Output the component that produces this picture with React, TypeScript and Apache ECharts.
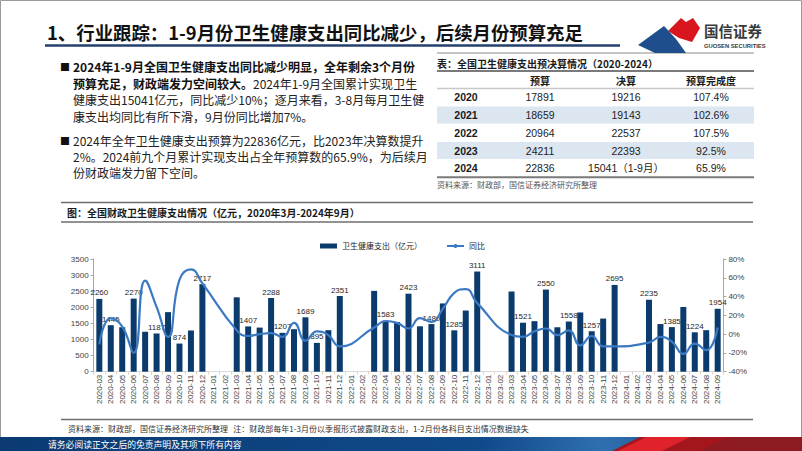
import React, { useEffect, useRef } from "react";
import * as echarts from "echarts";

const months = [
  "2020-03","2020-04","2020-05","2020-06","2020-07","2020-08","2020-09","2020-10","2020-11","2020-12",
  "2021-01","2021-02","2021-03","2021-04","2021-05","2021-06","2021-07","2021-08","2021-09","2021-10","2021-11","2021-12",
  "2022-01","2022-02","2022-03","2022-04","2022-05","2022-06","2022-07","2022-08","2022-09","2022-10","2022-11","2022-12",
  "2023-01","2023-02","2023-03","2023-04","2023-05","2023-06","2023-07","2023-08","2023-09","2023-10","2023-11","2023-12",
  "2024-01","2024-02","2024-03","2024-04","2024-05","2024-06","2024-07","2024-08","2024-09",
];

// 卫生健康支出（亿元）
const spending = [
  2260, 1445, 1380, 2270, 1240, 1187, 1850, 874, 1280, 2717,
  null, null, 2310, 1407, 1370, 2288, 1207, 1320, 1689, 895, 1290, 2351,
  null, null, 2510, 1583, 1540, 2423, 1410, 1480, 2120, 1285, 1900, 3111,
  null, null, 2490, 1521, 1570, 2550, 1380, 1558, 1840, 1257, 1650, 2695,
  null, null, 2235, 1480, 1385, 2010, 1224, 1290, 1954,
];

// 同比（%）
const yoy = [
  -11, 17, 8, -20, 57, 29, -3, 58, 69, 54,
  null, null, 4, -2, 0, 1, -3, 12, -7, 3, -1, -13,
  null, null, 7, 14, 12, 6, 17, 13, 27, 44, 48, 33,
  null, null, -1, -3, 3, 6, -1, 4, -12, -2, -13, -13,
  null, null, -9, -3, -8, -21, -10, -17, 7,
];

const labeledMonths = [
  "2020-03","2020-04","2020-06","2020-08","2020-10","2020-12",
  "2021-04","2021-06","2021-07","2021-09","2021-10","2021-12",
  "2022-04","2022-06","2022-08","2022-10","2022-12",
  "2023-04","2023-06","2023-08","2023-10","2023-12",
  "2024-03","2024-05","2024-07","2024-09",
];

const leftTicks = { min: 0, max: 3500, interval: 500 };
const rightTicks = { min: -40, max: 80, interval: 20 };

// 表：全国卫生健康支出预决算情况
const tableHeaders = ["预算", "决算", "预算完成度"];
const tableYears = ["2020", "2021", "2022", "2023", "2024"];
const tableBudget = ["17891", "18659", "20964", "24211", "22836"];
const tableFinal = ["19216", "19143", "22537", "22393", "15041（1-9月）"];
const tableCompletion = ["107.4%", "102.6%", "107.5%", "92.5%", "65.9%"];

const CJK = '"Noto Sans CJK SC", "Noto Sans", sans-serif';
const ARIAL = '"Liberation Sans", Arial, "Noto Sans CJK SC", sans-serif';

const BAR_COLOR = "#0b3b6d";
const LINE_COLOR = "#3b7ac3";

function txt(x: number, y: number, text: string, o: any = {}) {
  const align = o.align || "left";
  return {
    type: "text",
    x,
    y,
    z: 10,
    style: {
      text,
      fill: o.fill || "#1a1a1a",
      fontSize: o.fontSize || 12,
      fontWeight: o.fontWeight || "normal",
      fontFamily: o.fontFamily || CJK,
      align,
      textAlign: align,
      verticalAlign: "middle",
      textVerticalAlign: "middle",
      rich: o.rich,
    },
  };
}

function hline(x1: number, x2: number, y: number, stroke: string, lineWidth: number) {
  return { type: "line", z: 5, shape: { x1, y1: y, x2, y2: y }, style: { stroke, lineWidth } };
}

export default function App() {
  const ref = useRef<HTMLDivElement>(null);

  useEffect(() => {
    const chart = echarts.init(ref.current!, null, { renderer: "svg" });

    const g: any[] = [];
    // slide frame
    g.push({ type: "rect", z: 1, shape: { x: 0.5, y: 0.5, width: 801, height: 450 }, style: { fill: "none", stroke: "#9a9a9a", lineWidth: 1 } });

    // title
    g.push(txt(47, 32, "1、行业跟踪：1-9月份卫生健康支出同比减少，后续月份预算充足", { fontSize: 18.4, fontWeight: "bold", fill: "#111" }));
    g.push(hline(45, 620, 45.5, "#23406e", 2.5));

    // logo
    g.push({ type: "polygon", z: 6, shape: { points: [[668, 31], [681, 18], [686, 22], [693, 18], [700, 28], [692, 42], [679, 38]] }, style: { fill: "#d9161e" } });
    g.push({ type: "polygon", z: 6, shape: { points: [[638, 45], [664, 26], [676, 39], [686, 53], [655, 53]] }, style: { fill: "#1f4e8c" } });
    g.push(txt(704, 30, "国信证券", { fontSize: 14.5, fontWeight: "bold", fill: "#3a3a3a" }));
    g.push(txt(704, 46, "GUOSEN SECURITIES", { fontSize: 5.8, fontWeight: "bold", fill: "#3a3a3a", fontFamily: ARIAL }));

    // left paragraphs
    g.push(txt(60, 66.7, "■", { fontSize: 10, fill: "#111" }));
    g.push(txt(73, 66.7, "2024年1-9月全国卫生健康支出同比减少明显，全年剩余3个月份", { fontSize: 12, fontWeight: "bold", fill: "#111" }));
    g.push(
      txt(73, 83.3, "{b|预算充足，财政端发力空间较大。}{r|2024年1-9月全国累计实现卫生}", {
        fontSize: 12,
        rich: {
          b: { fontSize: 12, fontWeight: "bold", fill: "#111", fontFamily: CJK },
          r: { fontSize: 12, fontWeight: "normal", fill: "#222", fontFamily: CJK },
        },
      })
    );
    g.push(txt(73, 99.7, "健康支出15041亿元，同比减少10%；逐月来看，3-8月每月卫生健", { fontSize: 12, fill: "#222" }));
    g.push(txt(73, 116, "康支出均同比有所下滑，9月份同比增加7%。", { fontSize: 12, fill: "#222" }));
    g.push(txt(60, 140, "■", { fontSize: 10, fill: "#111" }));
    g.push(txt(73, 140, "2024年全年卫生健康支出预算为22836亿元，比2023年决算数提升", { fontSize: 12, fill: "#222" }));
    g.push(txt(73, 156.5, "2%。2024前九个月累计实现支出占全年预算数的65.9%，为后续月", { fontSize: 12, fill: "#222" }));
    g.push(txt(73, 172.5, "份财政端发力留下空间。", { fontSize: 12, fill: "#222" }));

    // table
    const tx1 = 437, tx2 = 754;
    g.push(hline(tx1, tx2, 53, "#8c8c8c", 1));
    g.push(txt(tx1, 63.5, "表：全国卫生健康支出预决算情况（2020-2024）", { fontSize: 10, fontWeight: "bold", fill: "#1a1a1a" }));
    g.push(hline(tx1, tx2, 71, "#7a7a7a", 2));
    const colX = [466, 540, 626, 711];
    tableHeaders.forEach((h, i) => g.push(txt(colX[i + 1], 80, h, { fontSize: 10, fontWeight: "bold", align: "center" })));
    g.push(hline(tx1, tx2, 88.5, "#c8c8c8", 1.5));
    const rowY = [97, 115, 132.7, 150.5, 168.3];
    rowY.forEach((y, i) => {
      if (i % 2 === 1) {
        g.push({ type: "rect", z: 2, shape: { x: tx1, y: y - 8.5, width: tx2 - tx1, height: 17 }, style: { fill: "#dce6f1" } });
      }
      g.push(txt(colX[0], y, tableYears[i], { fontSize: 10.5, fontWeight: "bold", align: "center", fontFamily: ARIAL }));
      g.push(txt(colX[1], y, tableBudget[i], { fontSize: 10.5, align: "center", fontFamily: ARIAL, fill: "#222" }));
      g.push(txt(colX[2], y, tableFinal[i], { fontSize: 10.5, align: "center", fontFamily: ARIAL, fill: "#222" }));
      g.push(txt(colX[3], y, tableCompletion[i], { fontSize: 10.5, align: "center", fontFamily: ARIAL, fill: "#222" }));
    });
    g.push(hline(tx1, tx2, 177.3, "#7a7a7a", 2));
    g.push(txt(tx1, 184, "资料来源：财政部，国信证券经济研究所整理", { fontSize: 8, fill: "#555" }));

    // figure header
    g.push(hline(61, 753, 202.5, "#6e6e6e", 1.5));
    g.push(txt(67, 212.5, "图：全国财政卫生健康支出情况（亿元，2020年3月-2024年9月）", { fontSize: 10, fontWeight: "bold", fill: "#1a1a1a" }));
    g.push(hline(61, 753, 222, "#6e6e6e", 1.5));

    // bottom source
    g.push(hline(61, 753, 419.5, "#6e6e6e", 1.5));
    g.push(txt(68, 428.5, "资料来源：财政部，国信证券经济研究所整理   注：财政部每年1-3月份以季报形式披露财政支出，1-2月份各科目支出情况数据缺失", { fontSize: 8, fill: "#333" }));

    // footer band
    g.push({
      type: "rect",
      z: 3,
      shape: { x: 0, y: 437, width: 802, height: 14 },
      style: {
        fill: new echarts.graphic.LinearGradient(0, 0, 1, 0, [
          { offset: 0, color: "#0b3a72" },
          { offset: 0.6, color: "#104a8a" },
          { offset: 0.75, color: "#2f6fb0" },
          { offset: 1, color: "#0b3a72" },
        ]),
      },
    });
    g.push({ type: "polygon", z: 4, shape: { points: [[612, 451], [640, 437], [802, 437], [802, 451]] }, style: { fill: "#a3161d" } });
    g.push({ type: "polygon", z: 4, shape: { points: [[618, 451], [646, 437], [690, 437], [662, 451]] }, style: { fill: "#e0232a" } });
    g.push({ type: "polygon", z: 4, shape: { points: [[700, 451], [728, 437], [802, 437], [802, 451]] }, style: { fill: "#8e1a22" } });
    g.push(txt(48, 444, "请务必阅读正文之后的免责声明及其项下所有内容", { fontSize: 8.8, fill: "#ffffff" }));

    const barData = spending.map((v, i) =>
      labeledMonths.includes(months[i]) ? { value: v, label: { show: true } } : v
    );

    const axisGray = "#a6a6a6";
    const option: any = {
      animation: false,
      backgroundColor: "#ffffff",
      textStyle: { fontFamily: ARIAL },
      graphic: { elements: g },
      legend: {
        left: 315,
        top: 237,
        itemGap: 24,
        itemWidth: 17,
        itemHeight: 5,
        textStyle: { fontSize: 8, color: "#262626", fontFamily: CJK },
        data: [{ name: "卫生健康支出（亿元）", icon: "rect" }, { name: "同比" }],
      },
      grid: { left: 93.6, right: 78.6, top: 259, bottom: 79.3 },
      xAxis: {
        type: "category",
        data: months,
        axisLine: { lineStyle: { color: "#d9d9d9" } },
        axisTick: { show: true, length: 3, lineStyle: { color: "#e6d2c0" } },
        axisLabel: { rotate: 90, interval: 0, fontSize: 8, color: "#404040", margin: 3 },
      },
      yAxis: [
        {
          type: "value",
          ...leftTicks,
          splitLine: { show: false },
          axisLine: { show: true, lineStyle: { color: axisGray } },
          axisTick: { show: true, length: 3, lineStyle: { color: axisGray } },
          axisLabel: { fontSize: 8, color: "#404040", margin: 5, formatter: (v: number) => String(v) },
        },
        {
          type: "value",
          position: "right",
          ...rightTicks,
          splitLine: { show: false },
          axisLine: { show: true, lineStyle: { color: axisGray } },
          axisTick: { show: true, length: 3, lineStyle: { color: axisGray } },
          axisLabel: { fontSize: 8, color: "#404040", margin: 5, formatter: (v: number) => v + "%" },
        },
      ],
      series: [
        {
          name: "卫生健康支出（亿元）",
          type: "bar",
          data: barData,
          barWidth: 6,
          itemStyle: { color: BAR_COLOR },
          label: { show: false, position: "top", distance: 2, fontSize: 8, color: "#262626", formatter: (p: any) => String(p.value) },
          z: 2,
        },
        {
          name: "同比",
          type: "line",
          yAxisIndex: 1,
          data: yoy,
          smooth: 0.5,
          connectNulls: true,
          symbol: "none",
          lineStyle: { color: LINE_COLOR, width: 2.2 },
          itemStyle: { color: LINE_COLOR },
          z: 3,
        },
      ],
    };

    chart.setOption(option);
    return () => chart.dispose();
  }, []);

  return (
    <div
      ref={ref}
      style={{ position: "absolute", left: 0, top: 0, width: 802, height: 451, background: "#fff" }}
    />
  );
}
